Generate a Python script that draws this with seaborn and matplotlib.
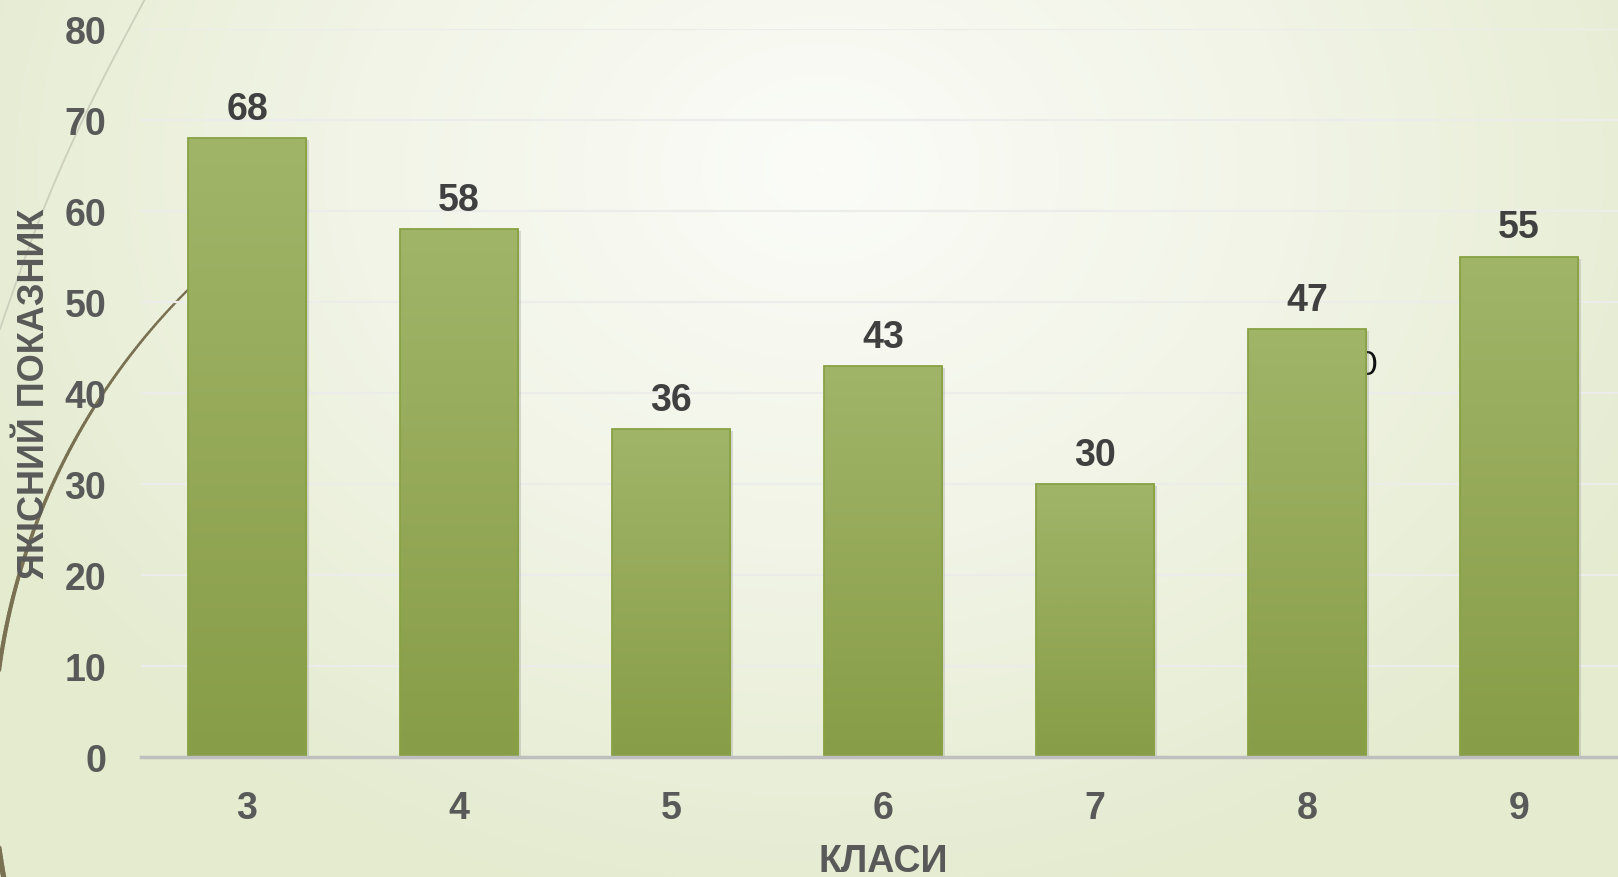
import numpy as np
import pandas as pd
import matplotlib.pyplot as plt
import matplotlib.patheffects as pe
from matplotlib.collections import LineCollection
from matplotlib.colors import LinearSegmentedColormap
from matplotlib.patches import Rectangle
import seaborn as sns

# data
classes = ['3', '4', '5', '6', '7', '8', '9']
quality = [68, 58, 36, 43, 30, 47, 55]
y_ticks = [0, 10, 20, 30, 40, 50, 60, 70, 80]

df = pd.DataFrame({'class': classes, 'quality': quality})

sns.set_theme(style='white')
plt.rcParams['font.family'] = ['Liberation Sans', 'DejaVu Sans']

W, H = 1618, 878
fig = plt.figure(figsize=(W / 100, H / 100), dpi=100)

# slide background: soft radial gradient and decorative arcs
bg = fig.add_axes([0, 0, 1, 1], zorder=0)
bg.set_xlim(0, W)
bg.set_ylim(H, 0)
bg.axis('off')
yy, xx = np.mgrid[0:H:2, 0:W:2]
d = np.sqrt(((xx - 820) / 950) ** 2 + ((yy - 170) / 760) ** 2)
d = np.clip(d, 0, 1)
bg_cmap = LinearSegmentedColormap.from_list('bg', ['#fbfcf8', '#f1f4e6', '#e4ebcf'])
bg.imshow(d, cmap=bg_cmap, extent=(0, W, H, 0), aspect='auto', vmin=0, vmax=1)

# dark arc on the left
theta = np.radians(np.linspace(168, 226, 200))
cx, cy, r = 655, 760, 662
ax_pts = cx + r * np.cos(theta)
ay_pts = cy + r * np.sin(theta)
pts = np.column_stack([ax_pts, ay_pts]).reshape(-1, 1, 2)
segs = np.concatenate([pts[:-1], pts[1:]], axis=1)
widths = np.linspace(3.8, 1.6, len(segs))
bg.add_collection(LineCollection(segs, colors='#7a7153', linewidths=widths, capstyle='round'))

# faint arc top-left
t = np.linspace(0, 1, 100)
lx = 145 * (1 - t) - 10 * np.sin(np.pi * t)
ly = 330 * t
bg.plot(lx, ly, color='#cdcfbd', lw=1.3)

# bit of text peeking from behind bar 8
bg.text(1377, 366, '0', ha='right', va='center', fontsize=24, color='#111111',
        family='Lato', zorder=1)

# main chart
ax = fig.add_axes([141 / W, 1 - 758 / H, (1625 - 141) / W, (758 - 30) / H], zorder=1)
ax.patch.set_alpha(0)

sns.barplot(data=df, x='class', y='quality', ax=ax, color='#93aa58', width=0.56,
            saturation=1, edgecolor='none', zorder=2)

ax.set_xlim(-0.5, 6.5)
ax.set_ylim(0, 80)
ax.set_yticks(y_ticks)

bar_cmap = LinearSegmentedColormap.from_list('bar', ['#a1b569', '#889d47'])
grad = np.linspace(0, 1, 256).reshape(-1, 1)
for patch in ax.patches:
    x0, y0 = patch.get_x(), patch.get_y()
    w, h = patch.get_width(), patch.get_height()
    patch.set_path_effects([pe.SimplePatchShadow(offset=(2, -1.5), shadow_rgbFace='#7f7f7f', alpha=0.25),
                            pe.Normal()])
    im = ax.imshow(grad, extent=(x0, x0 + w, y0, y0 + h), origin='upper', cmap=bar_cmap,
                   aspect='auto', zorder=2.1)
    im.set_clip_path(patch)
    ax.add_patch(Rectangle((x0, y0), w, h, fill=False, edgecolor='#87a243', lw=1.3, zorder=2.2))

ax.set_xlim(-0.5, 6.5)
ax.set_ylim(0, 80)

ax.bar_label(ax.containers[0], padding=8, fontsize=27, fontweight='bold', color='#404040')

ax.yaxis.grid(True, color='#ececea', lw=1.6, zorder=1)
ax.set_axisbelow(True)
for s in ['left', 'right', 'top']:
    ax.spines[s].set_visible(False)
ax.spines['bottom'].set_color('#bfbfbf')
ax.spines['bottom'].set_linewidth(2.5)
ax.spines['bottom'].set_zorder(3)

ax.tick_params(axis='both', length=0, labelsize=27, labelcolor='#595959')
ax.tick_params(axis='y', pad=25)
ax.tick_params(axis='x', pad=24)
for lab in ax.get_xticklabels() + ax.get_yticklabels():
    lab.set_fontweight('bold')

ax.set_xlabel('КЛАСИ', fontsize=27, fontweight='bold', color='#595959')
ax.set_ylabel('ЯКІСНИЙ ПОКАЗНИК', fontsize=26, fontweight='bold', color='#595959')
ax.xaxis.set_label_coords(0.5, -0.118)
ax.yaxis.set_label_coords(-0.06, 0.5)

fig.savefig('out.png', dpi=100)
